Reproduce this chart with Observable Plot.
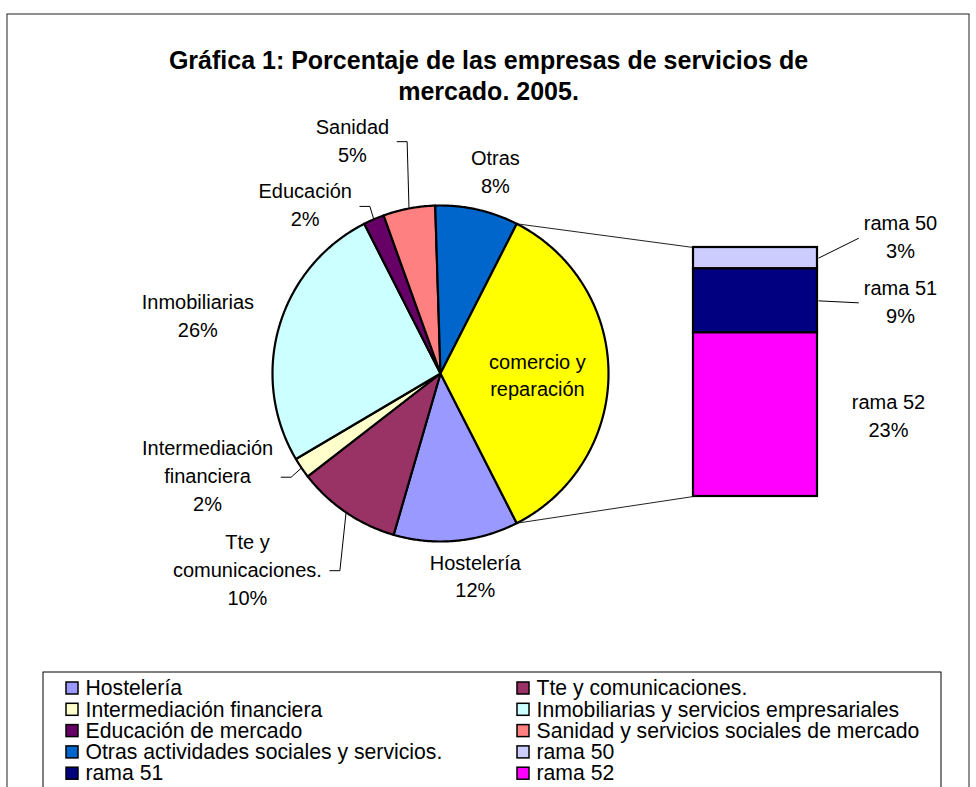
<!DOCTYPE html>
<html><head><meta charset="utf-8">
<script src="https://cdn.jsdelivr.net/npm/d3@7"></script>
<script src="https://cdn.jsdelivr.net/npm/@observablehq/plot@0.6"></script>
<style>body{margin:0;background:#fff;}</style>
</head><body><div id="chart"></div>
<script>
// ---------- DATA ----------
const pieSectors = ["Hostelería","Tte y comunicaciones.","Intermediación financiera","Inmobiliarias y servicios empresariales","Educación de mercado","Sanidad y servicios sociales de mercado","Otras actividades sociales y servicios."];
const pieShortLabels = ["Hostelería","Tte y\ncomunicaciones.","Intermediación\nfinanciera","Inmobiliarias","Educación","Sanidad","Otras"];
const pieValues = [12, 10, 2, 26, 2, 5, 8];
const groupLabel = "comercio y\nreparación";
const barRamas = ["rama 50","rama 51","rama 52"];
const barValues = [3, 9, 23];
const titleText = "Gráfica 1: Porcentaje de las empresas de servicios de\nmercado. 2005.";

// ---------- STYLES ----------
const pieColors = ["#9999FF","#993366","#FFFFCC","#CCFFFF","#660066","#FF8080","#0066CC"];
const groupColor = "#FFFF00";
const barColors = ["#CCCCFF","#000080","#FF00FF"];
const FONT = "'Liberation Sans', Arial, Helvetica, sans-serif";

// ---------- LAYOUT ----------
const W = 976, H = 787;
const frame = {x1: 7, x2: 969, y1: 14, y2: H + 20};
const pie = {cx: 440, cy: 373, r: 168};
const bar = {x1: 693, x2: 817, top: 247, bottom: 496};
// per pie label: [angle shift (deg), radius (px), leader line]
const pieLabelLayout = [[-4.3,207,false],[10.2,276,true],[10.2,255,true],[-3.2,249,false],[-15.6,215,true],[-10,248,true],[2.7,208,false]];
const groupLabelLayout = [1.8, 97];
// per bar label: [dx from bar right, dy from segment middle, leader]
const barLabelLayout = [[83,-20,true],[83,2,true],[71,2.5,false]];
const legend = {x1: 43, x2: 941, top: 672, row0: 688, rowStep: 21.3, colX: [66, 517], sq: 12, gap: 7};

// ---------- DERIVED GEOMETRY ----------
const total = d3.sum(pieValues) + d3.sum(barValues);
const groupTotal = d3.sum(barValues);
const deg = Math.PI / 180;
const half = groupTotal / total * 180;
const pt = (a, r = pie.r) => [pie.cx + r * Math.sin(a * deg), pie.cy - r * Math.cos(a * deg)];
const pct = v => Math.round(v / total * 100) + "%";

const slices = [];
let acc = 90 + half;
pieSectors.forEach((name, i) => {
  const span = pieValues[i] / total * 360;
  slices.push({name, color: pieColors[i], a0: acc, a1: acc + span,
    text: pieShortLabels[i] + "\n" + pct(pieValues[i]), layout: pieLabelLayout[i]});
  acc += span;
});
slices.push({name: "comercio", color: groupColor, a0: 90 - half, a1: 90 + half, text: groupLabel,
  layout: [groupLabelLayout[0], groupLabelLayout[1], false]});

const polyPts = slices.flatMap((s, k) => {
  const n = Math.max(2, Math.ceil((s.a1 - s.a0) / 0.5));
  const pts = [[pie.cx, pie.cy]];
  for (let j = 0; j <= n; j++) pts.push(pt(s.a0 + (s.a1 - s.a0) * j / n));
  pts.push([pie.cx, pie.cy]);
  return pts.map(([x, y]) => ({k, x, y, color: s.color}));
});

const ctx = document.createElement("canvas").getContext("2d");
ctx.font = "20px " + FONT;
const tw = s => d3.max(s.split("\n"), l => ctx.measureText(l).width);

const pieLabels = slices.map(s => {
  const mid = (s.a0 + s.a1) / 2;
  const [lx, ly] = pt(mid + s.layout[0], s.layout[1]);
  return {text: s.text, x: lx, y: ly, mid, leader: s.layout[2]};
});
const leaderPts = [];
pieLabels.forEach((l, k) => {
  if (!l.leader) return;
  const [ex, ey] = pt(l.mid);
  const side = Math.sign(ex - l.x);
  const sx = l.x + side * (tw(l.text) / 2 + 8);
  leaderPts.push({k, x: sx, y: l.y}, {k, x: sx + side * 10, y: l.y}, {k, x: ex, y: ey});
});

const pxPerPct = (bar.bottom - bar.top) / groupTotal;
let cum = 0;
const barSegs = barRamas.map((name, i) => {
  const y1 = bar.top + cum * pxPerPct; cum += barValues[i];
  const y2 = bar.top + cum * pxPerPct;
  return {name, color: barColors[i], y1, y2, mid: (y1 + y2) / 2};
});
const barLabels = barSegs.map((s, i) => {
  const [dx, dy, leader] = barLabelLayout[i];
  return {text: s.name + "\n" + pct(barValues[i]), x: bar.x2 + dx, y: s.mid + dy, segMid: s.mid, leader};
});
const barLeaders = barLabels.filter(l => l.leader).map(l => ({
  x1: bar.x2 + 1, y1: l.segMid, x2: l.x - tw(l.text) / 2 - 5, y2: l.y}));

const [tx, ty] = pt(90 - half), [bx, by] = pt(90 + half);
const connectors = [{x1: tx, y1: ty, x2: bar.x1, y2: bar.top}, {x1: bx, y1: by, x2: bar.x1, y2: bar.bottom}];

const legendNames = [...pieSectors, ...barRamas];
const legendColors = [...pieColors, ...barColors];
const legendItems = legendNames.map((name, i) => {
  const col = i % 2, row = Math.floor(i / 2);
  const x = legend.colX[col], y = legend.row0 + row * legend.rowStep;
  return {name, color: legendColors[i], x, y};
});

// ---------- PLOT ----------
const chart = Plot.plot({
  width: W, height: H, margin: 0,
  x: {domain: [0, W], range: [0, W], axis: null},
  y: {domain: [0, H], range: [0, H], axis: null},
  style: {fontFamily: FONT, background: "#fff"},
  marks: [
    Plot.rect([frame], {x1: "x1", x2: "x2", y1: "y1", y2: "y2", fill: "none", stroke: "#222", strokeWidth: 1}),
    Plot.text([{t: titleText}], {x: (frame.x1 + frame.x2) / 2, y: 74, text: "t", fontSize: 25, fontWeight: "bold",
      lineHeight: 1.24, lineAnchor: "middle", fill: "#000"}),
    Plot.link(connectors, {x1: "x1", y1: "y1", x2: "x2", y2: "y2", stroke: "#222", strokeWidth: 1}),
    Plot.line(polyPts, {x: "x", y: "y", z: "k", fill: "color", stroke: "#000", strokeWidth: 2.2, strokeLinejoin: "round"}),
    Plot.rect(barSegs, {x1: bar.x1, x2: bar.x2, y1: "y1", y2: "y2", fill: "color", stroke: "#000", strokeWidth: 2.2}),
    Plot.line(leaderPts, {x: "x", y: "y", z: "k", stroke: "#000", strokeWidth: 1}),
    Plot.link(barLeaders, {x1: "x1", y1: "y1", x2: "x2", y2: "y2", stroke: "#000", strokeWidth: 1}),
    Plot.text(pieLabels, {x: "x", y: "y", dy: -3, text: "text", fontSize: 20, lineHeight: 1.4, lineAnchor: "middle", textAnchor: "middle", fill: "#000"}),
    Plot.text(barLabels, {x: "x", y: "y", dy: -3, text: "text", fontSize: 20, lineHeight: 1.4, lineAnchor: "middle", textAnchor: "middle", fill: "#000"}),
    Plot.rect([legend], {x1: "x1", x2: "x2", y1: "top", y2: H + 20, fill: "none", stroke: "#000", strokeWidth: 1}),
    Plot.rect(legendItems, {x1: "x", x2: d => d.x + legend.sq, y1: d => d.y - legend.sq / 2, y2: d => d.y + legend.sq / 2,
      fill: "color", stroke: "#000", strokeWidth: 1.5}),
    Plot.text(legendItems, {x: d => d.x + legend.sq + legend.gap, y: "y", text: "name", fontSize: 21.2, textAnchor: "start",
      lineAnchor: "middle", fill: "#000"})
  ]
});
document.getElementById("chart").appendChild(chart);
</script>
</body></html>
